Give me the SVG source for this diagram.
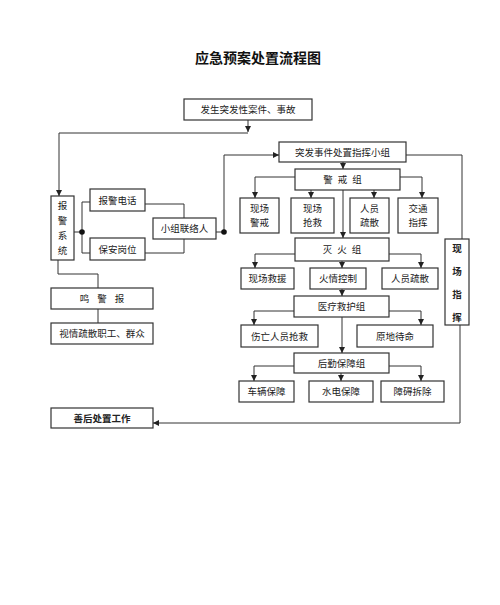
<svg xmlns="http://www.w3.org/2000/svg" width="500" height="605" viewBox="0 0 500 605">
<defs>
<marker id="ah" markerUnits="userSpaceOnUse" markerWidth="6" markerHeight="6" refX="6" refY="3" orient="auto"><path d="M0,0 L6,3 L0,6 z" fill="#222"/></marker>
<style>
.b{fill:#fff;stroke:#333;stroke-width:1.2}
.t{font-family:"Noto Sans CJK SC","Noto Sans",sans-serif;font-size:9.5px;fill:#222;text-anchor:middle}
.c path{fill:none;stroke:#333;stroke-width:1}
.a{marker-end:url(#ah)}
</style>
</defs>
<rect width="500" height="605" fill="#fff"/>
<text x="258" y="63" style="font-family:'Noto Sans CJK SC',sans-serif;font-size:14px;font-weight:bold;text-anchor:middle;fill:#111">应急预案处置流程图</text>

<g id="event"><rect class="b" x="184" y="99" width="128" height="21"/><text class="t" x="248" y="113">发生突发性案件、事故</text></g>
<g id="alarm-system"><rect class="b" x="51" y="196" width="23" height="64"/>
<text class="t" x="62.5" y="209">报</text><text class="t" x="62.5" y="224">警</text><text class="t" x="62.5" y="239">系</text><text class="t" x="62.5" y="254">统</text></g>
<g id="alarm-phone"><rect class="b" x="90" y="189" width="55" height="22"/><text class="t" x="117.5" y="203.5">报警电话</text></g>
<g id="security-post"><rect class="b" x="90" y="238" width="55" height="22"/><text class="t" x="117.5" y="252.5">保安岗位</text></g>
<g id="liaison"><rect class="b" x="153" y="218" width="63" height="21"/><text class="t" x="184.5" y="232">小组联络人</text></g>
<g id="command"><rect class="b" x="279" y="142" width="127" height="20"/><text class="t" x="342.5" y="155.5">突发事件处置指挥小组</text></g>
<g id="onsite-command"><rect class="b" x="445" y="239" width="24" height="86"/>
<text class="t" x="457" y="252" style="font-weight:bold">现</text><text class="t" x="457" y="275" style="font-weight:bold">场</text><text class="t" x="457" y="298" style="font-weight:bold">指</text><text class="t" x="457" y="321" style="font-weight:bold">挥</text></g>

<g id="guard-group"><rect class="b" x="295" y="169" width="105" height="21"/><text class="t" x="345" y="183" style="letter-spacing:5px">警戒组</text></g>
<g id="g1"><rect class="b" x="240" y="198" width="39" height="35"/><text class="t" x="259.5" y="212">现场</text><text class="t" x="259.5" y="226">警戒</text></g>
<g id="g2"><rect class="b" x="291" y="198" width="43" height="35"/><text class="t" x="312.5" y="212">现场</text><text class="t" x="312.5" y="226">抢救</text></g>
<g id="g3"><rect class="b" x="350" y="198" width="39" height="35"/><text class="t" x="369.5" y="212">人员</text><text class="t" x="369.5" y="226">疏散</text></g>
<g id="g4"><rect class="b" x="398" y="198" width="40" height="35"/><text class="t" x="418" y="212">交通</text><text class="t" x="418" y="226">指挥</text></g>

<g id="fire-group"><rect class="b" x="295" y="238" width="94" height="23"/><text class="t" x="344.5" y="253" style="letter-spacing:5px">灭火组</text></g>
<g id="f1"><rect class="b" x="241" y="268" width="53" height="21"/><text class="t" x="267.5" y="282">现场救援</text></g>
<g id="f2"><rect class="b" x="310" y="268" width="56" height="21"/><text class="t" x="338" y="282">火情控制</text></g>
<g id="f3"><rect class="b" x="382" y="268" width="56" height="21"/><text class="t" x="410" y="282">人员疏散</text></g>

<g id="medical-group"><rect class="b" x="294" y="296" width="95" height="21"/><text class="t" x="341.5" y="310">医疗救护组</text></g>
<g id="m1"><rect class="b" x="241" y="325" width="77" height="22"/><text class="t" x="279.5" y="339.5">伤亡人员抢救</text></g>
<g id="m2"><rect class="b" x="357" y="325" width="76" height="22"/><text class="t" x="395" y="339.5">原地待命</text></g>

<g id="logistics-group"><rect class="b" x="294" y="353" width="95" height="20"/><text class="t" x="341.5" y="366.5">后勤保障组</text></g>
<g id="l1"><rect class="b" x="239" y="381" width="55" height="21"/><text class="t" x="266.5" y="395">车辆保障</text></g>
<g id="l2"><rect class="b" x="309" y="381" width="64" height="21"/><text class="t" x="341" y="395">水电保障</text></g>
<g id="l3"><rect class="b" x="381" y="381" width="63" height="21"/><text class="t" x="412.5" y="395">障碍拆除</text></g>

<g id="siren"><rect class="b" x="51" y="288" width="102" height="21"/><text class="t" x="106" y="302" style="letter-spacing:8px">鸣警报</text></g>
<g id="evacuate"><rect class="b" x="51" y="323" width="102" height="21"/><text class="t" x="102" y="337">视情疏散职工、群众</text></g>
<g id="aftermath"><rect class="b" x="51" y="408" width="102" height="20"/><text class="t" x="102" y="421.5" style="font-weight:bold">善后处置工作</text></g>

<g id="connectors" class="c">
<path class="a" d="M248,120 V132"/>
<path class="a" d="M248,133 H59 V196"/>
<path d="M74,232 H82 M90,202 H82 V253 H90"/>
<path d="M145,204 H184 V218 M145,253 H184 V239"/>
<path d="M216,232 H224"/>
<path class="a" d="M224,232 V155 H279"/>
<path d="M406,155 H462 V239"/>
<path class="a" d="M343,162 V169"/>
<path class="a" d="M295,177 H255 V198"/>
<path class="a" d="M400,177 H422 V198"/>
<path class="a" d="M311,190 V198"/>
<path class="a" d="M374,190 V198"/>
<path class="a" d="M343,190 V238"/>
<path class="a" d="M295,254 H255 V268"/>
<path class="a" d="M389,254 H421 V268"/>
<path class="a" d="M342,261 V268"/>
<path class="a" d="M342,289 V296"/>
<path class="a" d="M294,311 H254 V325"/>
<path class="a" d="M389,311 H421 V325"/>
<path class="a" d="M342,317 V353"/>
<path class="a" d="M294,366 H254 V381"/>
<path class="a" d="M389,366 H421 V381"/>
<path class="a" d="M341,373 V381"/>
<path class="a" d="M460,325 V423 H153"/>
<path d="M58,260 V274 H98 V288 M98,309 V323"/>
<circle cx="82" cy="232" r="2.8" fill="#111"/>
<circle cx="224" cy="232" r="2.8" fill="#111"/>
</g>
</svg>
